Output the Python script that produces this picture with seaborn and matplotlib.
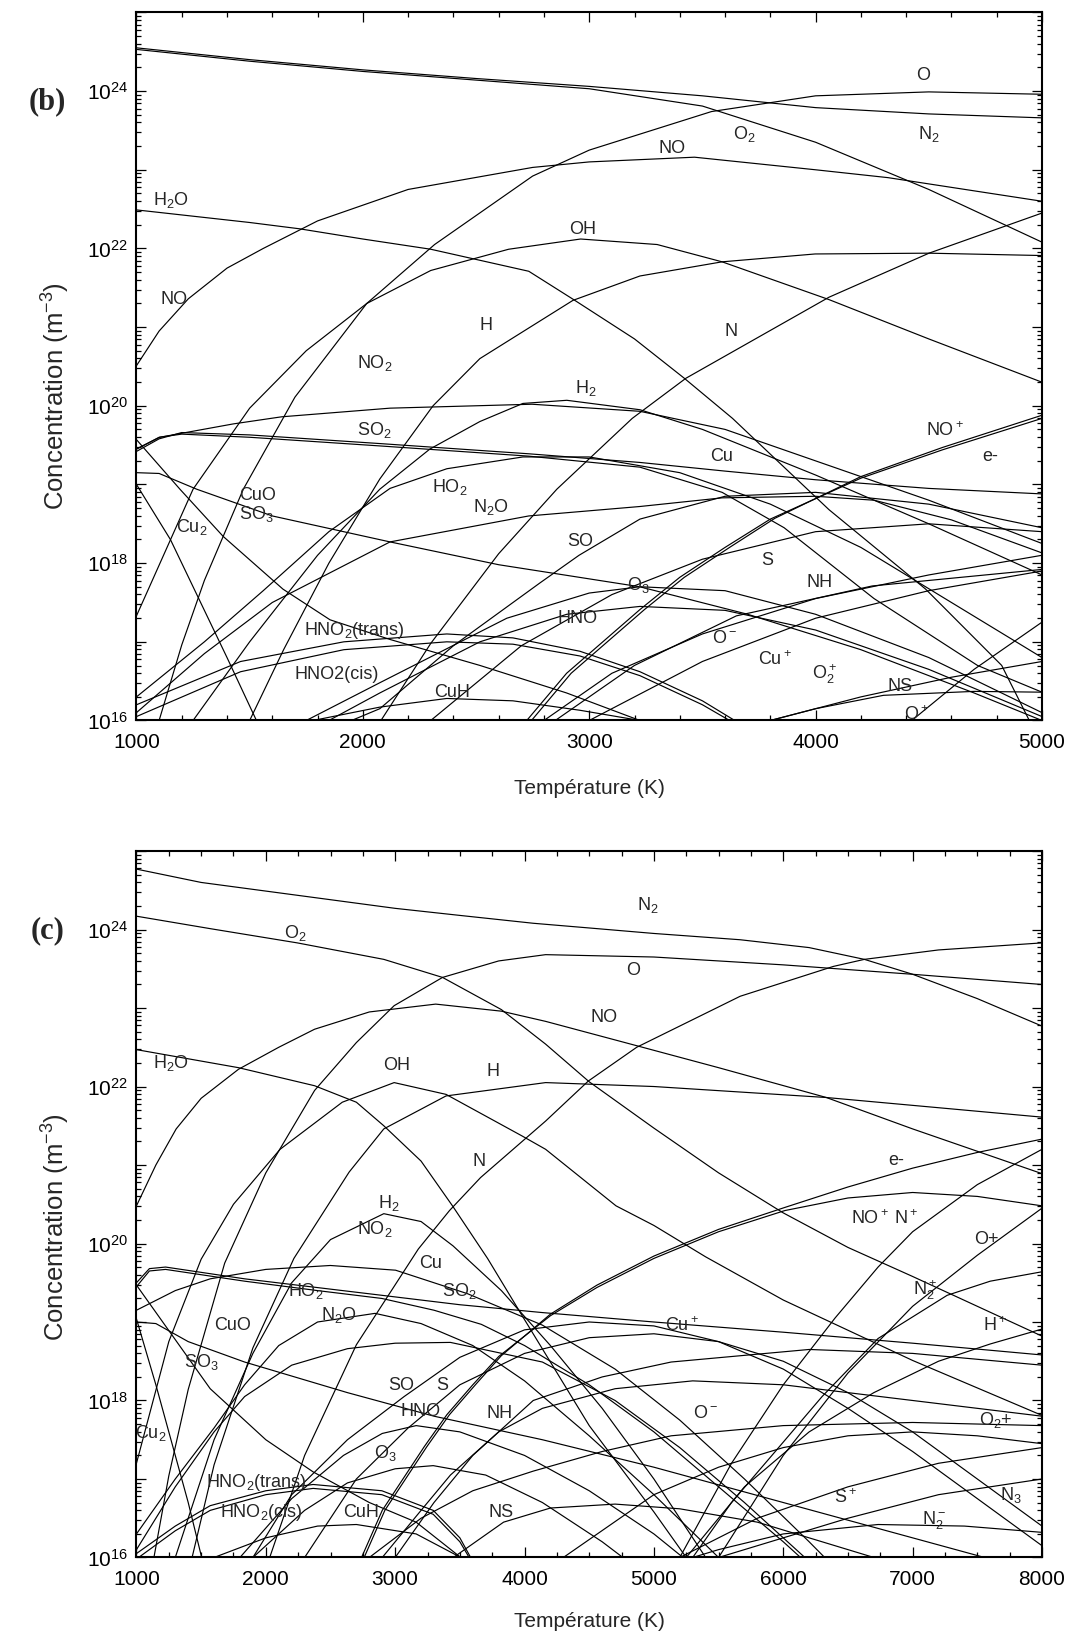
import numpy as np
import pandas as pd
import matplotlib
matplotlib.use("Agg")
import matplotlib.pyplot as plt
import seaborn as sns
from matplotlib.ticker import FixedLocator, FuncFormatter, NullFormatter, MultipleLocator, LogLocator

# ---------------- data : panel (b)  (T [K], log10 concentration [m^-3]) ----------------
b_N2 = [(1000,24.55),(1500,24.40),(2000,24.27),(2500,24.16),(3000,24.06),(3500,23.94),(4000,23.79),(4500,23.71),(5000,23.66)]
b_O2 = [(1000,24.53),(1500,24.38),(2000,24.25),(2500,24.14),(3000,24.03),(3500,23.81),(4000,23.35),(4500,22.75),(5000,22.08)]
b_O = [(1100,16.0),(1200,16.96),(1300,17.78),(1472,18.94),(1700,20.11),(2017,21.3),(2317,22.05),(2750,22.92),(3000,23.25),(3540,23.74),(4000,23.94),(4500,23.99),(5000,23.96)]
b_NO = [(1000,20.51),(1100,20.95),(1229,21.36),(1400,21.75),(1560,22.0),(1800,22.35),(2200,22.75),(2750,23.03),(3000,23.1),(3465,23.16),(4000,23.0),(4320,22.9),(5000,22.6)]
b_H2O = [(1000,22.49),(1500,22.33),(1720,22.25),(2000,22.12),(2300,21.99),(2733,21.71),(2931,21.35),(3200,20.85),(3420,20.35),(3633,19.84),(4059,18.68),(4486,17.67),(4822,16.7),(4944,16.0)]
b_OH = [(1000,17.33),(1250,18.94),(1500,19.97),(1750,20.7),(2017,21.3),(2300,21.72),(2644,21.99),(2962,22.12),(3300,22.05),(3587,21.83),(4059,21.35),(4500,20.85),(5000,20.3)]
b_H = [(1500,16.0),(1650,16.9),(1850,18.0),(2075,19.07),(2310,20.0),(2517,20.6),(2928,21.34),(3224,21.65),(3587,21.83),(3998,21.93),(4500,21.94),(5000,21.91)]
b_N = [(2080,16.0),(2300,16.98),(2600,18.12),(2857,18.94),(3190,19.84),(3427,20.35),(4059,21.38),(4501,21.94),(5000,22.45)]
b_NO2 = [(1000,19.45),(1103,19.6),(1428,19.77),(1641,19.86),(2120,19.97),(2747,20.02),(3224,19.93),(3600,19.7),(4000,19.3),(4500,18.8),(5000,18.25)]
b_H2 = [(1250,16.0),(1500,17.0),(1800,18.1),(2075,18.94),(2296,19.45),(2517,19.8),(2707,20.03),(2901,20.07),(3224,19.95),(3500,19.7),(4000,19.12),(4500,18.5),(5000,17.85)]
b_SO2 = [(1000,19.45),(1100,19.6),(1200,19.64),(1500,19.6),(2075,19.49),(2733,19.36),(3224,19.22),(3587,18.9),(3861,18.45),(4258,17.55),(4715,16.7),(5000,16.36)]
b_Cu = [(1000,19.42),(1100,19.58),(1200,19.66),(1500,19.63),(2075,19.52),(2733,19.39),(3224,19.28),(3600,19.17),(4000,19.06),(4500,18.95),(5000,18.88)]
b_NOp = [(2724,16.0),(2900,16.6),(3100,17.1),(3224,17.41),(3400,17.82),(3600,18.2),(3800,18.56),(4200,19.08),(4560,19.44),(5000,19.84)]
b_e = [(2745,16.0),(2920,16.6),(3120,17.1),(3244,17.41),(3420,17.82),(3620,18.2),(3820,18.57),(4200,19.1),(4560,19.47),(5000,19.88)]
b_CuO = [(1000,19.15),(1100,19.14),(1266,18.94),(1600,18.6),(2120,18.27),(2600,17.98),(3223,17.7),(3700,17.35),(4200,16.9),(4700,16.35),(5000,16.0)]
b_HO2 = [(1000,16.3),(1300,17.0),(1560,17.65),(1850,18.4),(2120,18.95),(2371,19.2),(2707,19.35),(3000,19.35),(3400,19.15),(3800,18.75),(4200,18.2),(4600,17.5),(5000,16.8)]
b_N2O = [(1000,16.1),(1300,16.85),(1600,17.5),(2120,18.27),(2733,18.6),(3224,18.72),(3587,18.83),(4000,18.85),(4258,18.8),(4600,18.55),(5000,18.13)]
b_Cu2 = [(1000,19.0),(1150,18.3),(1300,17.4),(1400,16.8),(1530,16.0)]
b_SO3 = [(1000,19.57),(1192,18.94),(1383,18.34),(1647,17.67),(1855,17.28),(2120,17.03),(2517,16.7),(2900,16.35),(3224,16.0)]
b_SO = [(1950,16.0),(2075,16.15),(2400,16.95),(2783,17.75),(2955,18.1),(3224,18.56),(3600,18.85),(4000,18.9),(4500,18.75),(5000,18.45)]
b_O3 = [(1850,16.0),(2075,16.35),(2517,17.0),(2901,17.35),(3224,17.45),(3600,17.4),(4000,17.15),(4500,16.65),(5000,16.05)]
b_S = [(2300,16.0),(2700,16.95),(3100,17.6),(3500,18.05),(4000,18.4),(4500,18.5),(5000,18.4)]
b_NH = [(2850,16.0),(3200,16.7),(3650,17.33),(4250,17.71),(5000,17.92)]
b_HNO = [(1750,16.0),(2075,16.48),(2636,17.3),(3000,17.62),(3224,17.7),(3600,17.65),(4000,17.35),(4500,16.8),(5000,16.1)]
b_HNO2t = [(1000,16.2),(1460,16.75),(1916,17.0),(2371,17.1),(2663,17.05),(2959,16.88),(3224,16.62),(3500,16.25),(3700,15.9)]
b_HNO2c = [(1000,16.05),(1460,16.62),(1916,16.9),(2371,17.0),(2663,16.97),(2959,16.82),(3224,16.57),(3500,16.2),(3680,15.9)]
b_CuH = [(1780,16.0),(2075,16.17),(2371,16.28),(2663,16.25),(2959,16.13),(3224,16.0)]
b_Om = [(2800,16.0),(3100,16.6),(3500,17.1),(4000,17.55),(4500,17.85),(5000,18.1)]
b_Cup = [(3000,16.0),(3500,16.75),(4000,17.3),(4500,17.65),(5000,17.9)]
b_O2p = [(3800,16.0),(4200,16.3),(4600,16.55),(5000,16.75)]
b_NS = [(3800,16.0),(4000,16.15),(4300,16.32),(4700,16.37),(5000,16.36)]
b_Op = [(4425,16.0),(4700,16.65),(5000,17.25)]

# ---------------- data : panel (c) ----------------
c_N2 = [(1000,24.77),(1500,24.6),(2000,24.49),(2500,24.38),(3000,24.27),(3500,24.18),(4067,24.08),(4500,24.02),(5000,23.95),(5667,23.87),(6200,23.77),(6627,23.62),(7000,23.43),(7500,23.12),(8000,22.77)]
c_O2 = [(1000,24.17),(1575,24.01),(2243,23.83),(2912,23.62),(3366,23.39),(3821,22.98),(4163,22.54),(4500,22.06),(5000,21.47),(5500,20.9),(6000,20.39),(6500,19.95),(7000,19.58),(7500,19.2),(8000,18.82)]
c_O = [(1135,16.0),(1250,17.04),(1400,18.14),(1682,19.75),(2000,20.9),(2377,21.95),(2700,22.56),(2992,23.03),(3366,23.39),(3800,23.6),(4163,23.68),(5000,23.65),(6000,23.55),(7000,23.43),(8000,23.3)]
c_NO = [(1000,20.48),(1150,21.0),(1307,21.46),(1500,21.85),(1789,22.22),(2100,22.5),(2377,22.73),(2800,22.95),(3313,23.05),(3821,22.96),(4163,22.83),(4867,22.52),(5500,22.24),(6333,21.86),(7000,21.46),(8000,20.89)]
c_N = [(2030,16.0),(2300,17.3),(2700,18.71),(3179,19.93),(3420,20.42),(3660,20.84),(4163,21.56),(4493,22.07),(4867,22.5),(5667,23.15),(6387,23.53),(6627,23.62),(7200,23.74),(8000,23.83)]
c_H = [(1430,16.0),(1600,17.18),(1900,18.67),(2217,19.81),(2644,20.91),(2912,21.46),(3393,21.88),(4163,22.05),(5000,22.0),(6333,21.86),(7000,21.76),(8000,21.61)]
c_OH = [(1000,17.2),(1250,18.75),(1500,19.8),(1750,20.5),(2110,21.2),(2591,21.8),(2992,22.05),(3393,21.9),(3981,21.37),(4163,21.2),(4707,20.48),(5000,20.23),(5400,19.83),(6000,19.28),(7000,18.51),(8000,17.81)]
c_H2O = [(1000,22.47),(1789,22.24),(2377,22.01),(2700,21.8),(2912,21.5),(3200,21.05),(3447,20.47),(3714,19.81),(4000,19.03),(4500,17.68),(5000,16.58),(5250,16.0)]
c_H2 = [(1300,16.0),(1600,17.5),(1900,18.6),(2200,19.5),(2500,20.05),(2912,20.38),(3200,20.28),(3447,19.97),(3821,19.4),(4200,18.7),(4600,17.9),(5000,17.0),(5400,16.0)]
c_NO2 = [(1000,19.15),(1300,19.4),(1570,19.55),(2000,19.67),(2499,19.72),(3003,19.66),(3560,19.36),(4138,18.96),(4700,18.4),(5200,17.75),(5700,17.0),(6200,16.2),(6350,15.95)]
c_Cu = [(1000,19.5),(1100,19.68),(1225,19.7),(1836,19.55),(2897,19.34),(3500,19.22),(4138,19.12),(5000,19.0),(6000,18.87),(7000,18.73),(8000,18.58)]
c_SO2 = [(1000,19.45),(1100,19.65),(1225,19.67),(1836,19.52),(2400,19.4),(2897,19.3),(3300,19.15),(3666,18.97),(4000,18.7),(4500,18.2),(5000,17.6),(5500,16.9),(6000,16.2),(6200,15.9)]
c_HO2 = [(1000,16.3),(1300,17.0),(1600,17.65),(1836,18.2),(2100,18.7),(2400,19.0),(2844,19.11),(3200,18.98),(3600,18.7),(4000,18.25),(4500,17.55),(5000,16.8),(5500,16.0)]
c_N2O = [(1000,16.1),(1300,16.9),(1600,17.6),(1836,18.05),(2200,18.45),(2631,18.66),(3000,18.73),(3427,18.74),(4138,18.49),(4700,18.0),(5200,17.4),(5700,16.7),(6200,15.95)]
c_CuO = [(1000,19.0),(1150,18.98),(1400,18.75),(1836,18.49),(2631,18.1),(3300,17.8),(4138,17.5),(5000,17.15),(6000,16.7),(7000,16.25),(8000,15.8)]
c_SO3 = [(1000,19.47),(1570,18.15),(2000,17.5),(2366,17.09),(2800,16.7),(3162,16.45),(3507,16.0)]
c_Cu2 = [(1000,19.04),(1150,18.2),(1300,17.3),(1400,16.7),(1504,16.0)]
c_SO = [(1900,16.0),(2200,16.8),(2631,17.5),(3069,18.05),(3500,18.55),(4000,18.9),(4500,19.0),(5000,18.95),(5500,18.75),(6000,18.4),(6500,17.9),(7000,17.35),(7500,16.75),(8000,16.15)]
c_S = [(2300,16.0),(2700,17.0),(3100,17.65),(3500,18.2),(4000,18.6),(4500,18.8),(5000,18.85),(5500,18.75),(6000,18.5),(6500,18.1),(7000,17.6),(7500,17.0),(8000,16.4)]
c_HNO = [(1800,16.0),(2200,16.75),(2600,17.3),(2900,17.58),(3162,17.68),(3500,17.6),(4000,17.3),(4500,16.85),(5000,16.3),(5300,15.9)]
c_O3 = [(1900,16.0),(2300,16.6),(2631,16.95),(3000,17.13),(3294,17.17),(3700,17.05),(4138,16.7),(4600,16.2),(4800,15.95)]
c_NH = [(2900,16.0),(3200,16.6),(3427,17.05),(3800,17.6),(4138,17.9),(4700,18.15),(5300,18.25),(6000,18.2),(7000,18.0),(8000,17.8)]
c_HNO2t = [(1000,16.05),(1300,16.4),(1570,16.66),(2000,16.85),(2366,16.93),(2897,16.85),(3294,16.6),(3500,16.25),(3600,15.95)]
c_HNO2c = [(1000,15.98),(1300,16.34),(1570,16.6),(2000,16.8),(2366,16.88),(2897,16.8),(3294,16.55),(3500,16.2),(3590,15.95)]
c_CuH = [(1600,16.0),(2000,16.25),(2400,16.4),(2700,16.42),(3162,16.3),(3507,16.0)]
c_NS = [(3450,16.0),(3838,16.45),(4200,16.63),(4700,16.68),(5200,16.62),(5800,16.45),(6500,16.1),(6800,15.95)]
c_NOp = [(2740,16.0),(2900,16.6),(3100,17.1),(3224,17.41),(3400,17.82),(3600,18.2),(3800,18.56),(4200,19.08),(4560,19.44),(5000,19.81),(5500,20.15),(6013,20.42),(6500,20.58),(7000,20.65),(7500,20.6),(8000,20.48)]
c_e = [(2760,16.0),(2920,16.6),(3120,17.1),(3244,17.41),(3420,17.82),(3620,18.2),(3820,18.57),(4200,19.1),(4560,19.47),(5000,19.84),(5500,20.18),(6013,20.46),(6500,20.72),(7000,20.96),(7500,21.16),(8000,21.33)]
c_Np = [(5200,16.0),(5600,17.2),(6000,18.2),(6400,19.05),(6733,19.7),(7000,20.15),(7500,20.75),(8000,21.2)]
c_Op = [(5500,16.0),(6000,17.3),(6500,18.35),(7000,19.2),(7500,19.85),(8000,20.45)]
c_N2p = [(5300,16.0),(5600,16.7),(5933,17.34),(6300,18.05),(6733,18.79),(7267,19.34),(7600,19.52),(8000,19.64)]
c_Hp = [(5250,16.0),(5700,16.9),(6200,17.6),(6700,18.1),(7200,18.5),(7600,18.72),(8000,18.91)]
c_Cup = [(3000,16.0),(3300,16.7),(3600,17.3),(4067,18.0),(4600,18.3),(5133,18.49),(6200,18.65),(7000,18.6),(8000,18.45)]
c_Om = [(2800,16.0),(3200,16.5),(3600,16.85),(4067,17.1),(4600,17.35),(5133,17.55),(6000,17.68),(7000,17.72),(8000,17.68)]
c_O2p = [(4300,16.0),(5000,16.8),(5500,17.15),(6000,17.4),(6500,17.55),(7000,17.6),(7500,17.55),(8000,17.45)]
c_Sp = [(5200,16.0),(5800,16.5),(6500,16.9),(7200,17.2),(8000,17.4)]
c_N3 = [(5500,16.0),(6500,16.5),(7200,16.8),(8000,17.0)]
c_N2m = [(5300,16.0),(5500,16.1),(6000,16.3),(6733,16.42),(7400,16.4),(8000,16.32)]

curves_b = {"N2": b_N2, "O2": b_O2, "O": b_O, "NO": b_NO, "H2O": b_H2O, "OH": b_OH, "H": b_H,
            "N": b_N, "NO2": b_NO2, "H2": b_H2, "SO2": b_SO2, "Cu": b_Cu, "NO+": b_NOp, "e-": b_e,
            "CuO": b_CuO, "HO2": b_HO2, "N2O": b_N2O, "Cu2": b_Cu2, "SO3": b_SO3, "SO": b_SO,
            "O3": b_O3, "S": b_S, "NH": b_NH, "HNO": b_HNO, "HNO2t": b_HNO2t, "HNO2c": b_HNO2c,
            "CuH": b_CuH, "O-": b_Om, "Cu+": b_Cup, "O2+": b_O2p, "NS": b_NS, "O+": b_Op}
curves_c = {"N2": c_N2, "O2": c_O2, "O": c_O, "NO": c_NO, "N": c_N, "H": c_H, "OH": c_OH,
            "H2O": c_H2O, "H2": c_H2, "NO2": c_NO2, "Cu": c_Cu, "SO2": c_SO2, "HO2": c_HO2,
            "N2O": c_N2O, "CuO": c_CuO, "SO3": c_SO3, "Cu2": c_Cu2, "SO": c_SO, "S": c_S,
            "HNO": c_HNO, "O3": c_O3, "NH": c_NH, "HNO2t": c_HNO2t, "HNO2c": c_HNO2c, "CuH": c_CuH,
            "NS": c_NS, "NO+": c_NOp, "e-": c_e, "N+": c_Np, "O+": c_Op, "N2+": c_N2p, "H+": c_Hp,
            "Cu+": c_Cup, "O-": c_Om, "O2+": c_O2p, "S+": c_Sp, "N3": c_N3, "N2-": c_N2m}

# label texts and their places (T, log10 c)
labels_b = [("O", 4475, 24.2), ("O$_2$", 3687, 23.46), ("N$_2$", 4502, 23.46), ("NO", 3364, 23.27),
            ("H$_2$O", 1152, 22.61), ("OH", 2972, 22.24), ("NO", 1166, 21.35), ("H", 2544, 21.02),
            ("N", 3627, 20.94), ("NO$_2$", 2051, 20.54), ("H$_2$", 2986, 20.22), ("NO$^+$", 4571, 19.69),
            ("SO$_2$", 2051, 19.69), ("e-", 4770, 19.35), ("Cu", 3585, 19.35), ("CuO", 1535, 18.86),
            ("HO$_2$", 2382, 18.97), ("N$_2$O", 2567, 18.71), ("Cu$_2$", 1244, 18.46), ("SO$_3$", 1530, 18.62),
            ("SO", 2959, 18.28), ("O$_3$", 3215, 17.72), ("S", 3788, 18.03), ("NH", 4018, 17.75),
            ("HNO", 2949, 17.3), ("HNO$_2$(trans)", 1963, 17.14), ("O$^-$", 3599, 17.04), ("Cu$^+$", 3820, 16.77),
            ("O$_2^+$", 4041, 16.59), ("HNO2(cis)", 1885, 16.59), ("CuH", 2392, 16.36), ("NS", 4373, 16.43),
            ("O$^+$", 4447, 16.07)]
labels_c = [("N$_2$", 4952, 24.31), ("O$_2$", 2226, 23.95), ("O", 4839, 23.48), ("NO", 4613, 22.88),
            ("H$_2$O", 1266, 22.3), ("OH", 3008, 22.27), ("H", 3758, 22.19), ("N", 3645, 21.04),
            ("e-", 6871, 21.06), ("H$_2$", 2952, 20.52), ("NO$^+$", 6669, 20.32), ("N$^+$", 6952, 20.32),
            ("O+", 7573, 20.05), ("NO$_2$", 2839, 20.19), ("Cu", 3274, 19.75), ("HO$_2$", 2306, 19.39),
            ("SO$_2$", 3492, 19.39), ("N$_2^+$", 7097, 19.41), ("N$_2$O", 2565, 19.09), ("CuO", 1742, 18.95),
            ("Cu$^+$", 5218, 18.95), ("H$^+$", 7637, 18.95), ("SO$_3$", 1500, 18.49), ("SO", 3048, 18.19),
            ("S", 3363, 18.19), ("HNO", 3194, 17.86), ("NH", 3806, 17.83), ("Cu$_2$", 1113, 17.58),
            ("O$^-$", 5403, 17.83), ("O$_2$+", 7645, 17.75), ("O$_3$", 2927, 17.33), ("HNO$_2$(trans)", 1927, 16.96),
            ("S$^+$", 6484, 16.76), ("N$_3$", 7758, 16.8), ("HNO$_2$(cis)", 1968, 16.57), ("CuH", 2734, 16.57),
            ("NS", 3815, 16.57), ("N$_2^-$", 7169, 16.48)]

# ---------------- style ----------------
sns.set_theme(style="ticks")
plt.rcParams['font.family'] = ['Liberation Sans', 'DejaVu Sans']
plt.rcParams['mathtext.default'] = 'regular'
plt.rcParams['axes.linewidth'] = 1.5

def to_frame(curves):
    rows = []
    for name, pts in curves.items():
        for T, v in pts:
            rows.append((name, T, 10.0 ** v))
    return pd.DataFrame(rows, columns=["species", "T", "conc"])

fig = plt.figure(figsize=(10.72, 16.36), dpi=100)
ax_b = fig.add_axes([0.1273, 0.5596, 0.8447, 0.4328])
ax_c = fig.add_axes([0.1273, 0.0480, 0.8447, 0.4318])

def dec_fmt(v, pos):
    e = int(round(np.log10(v)))
    return "$10^{%d}$" % e if e % 2 == 0 else ""

for ax, curves, labels, xmax, xminor, xl_y, yl_y in [(ax_b, curves_b, labels_b, 5000, 200, -0.083, 0.458),
                                                     (ax_c, curves_c, labels_c, 8000, 250, -0.077, 0.468)]:
    df = to_frame(curves)
    sns.lineplot(data=df, x="T", y="conc", units="species", estimator=None, sort=False,
                 color="black", linewidth=0.85, ax=ax, legend=False)
    ax.set_yscale("log")
    ax.set_xlim(1000, xmax)
    ax.set_ylim(1e16, 1e25)
    ax.xaxis.set_major_locator(MultipleLocator(1000))
    ax.xaxis.set_minor_locator(MultipleLocator(xminor))
    ax.yaxis.set_major_locator(FixedLocator([10.0 ** k for k in range(16, 26)]))
    ax.yaxis.set_minor_locator(LogLocator(base=10, subs=np.arange(2, 10), numticks=30))
    ax.yaxis.set_major_formatter(FuncFormatter(dec_fmt))
    ax.yaxis.set_minor_formatter(NullFormatter())
    ax.tick_params(which="both", direction="in", top=True, right=True, width=0.9, colors="black")
    ax.tick_params(which="major", length=7.5, labelsize=15)
    ax.tick_params(which="minor", length=3.8)
    ax.tick_params(axis="x", which="major", pad=9)
    ax.tick_params(axis="y", which="major", pad=6)
    for s in ax.spines.values():
        s.set_linewidth(1.5)
        s.set_color("black")
    ax.set_xlabel("Température (K)", fontsize=15)
    ax.set_ylabel("Concentration (m$^{-3}$)", fontsize=18.5)
    ax.xaxis.set_label_coords(0.5, xl_y)
    ax.yaxis.set_label_coords(-0.071, yl_y)
    for txt, T, lv in labels:
        ax.text(T, 10.0 ** lv, txt, fontsize=13, ha="center", va="center", clip_on=False)

fig.text(0.044, 0.938, "(b)", fontsize=22, fontweight="bold", family=["Liberation Serif", "DejaVu Serif"],
         ha="center", va="center")
fig.text(0.044, 0.431, "(c)", fontsize=22, fontweight="bold", family=["Liberation Serif", "DejaVu Serif"],
         ha="center", va="center")

fig.savefig("out.png", dpi=100, facecolor="white")
